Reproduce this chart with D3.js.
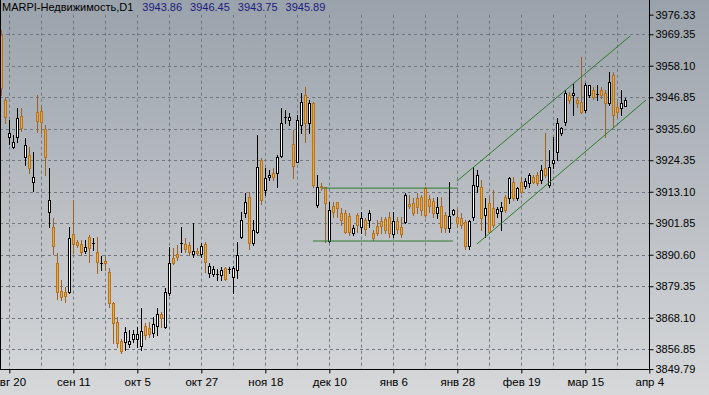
<!DOCTYPE html>
<html><head><meta charset="utf-8">
<script src="https://cdn.jsdelivr.net/npm/d3@7/dist/d3.min.js"></script>
<style>body{margin:0;background:#fff}svg{display:block}</style>
</head><body><svg id="c" width="709" height="395"></svg>
<script>
const openP = [3969.1,3945.9,3932.7,3929.1,3932.7,3940.2,3925.5,3926.2,3916.6,3941.6,
3941.9,3935.5,3905.9,3900.5,3887.7,3877.7,3877.3,3877.3,3898.0,3895.2,
3894.4,3891.9,3896.9,3894.8,3891.6,3887.7,3888.4,3884.4,3873.4,3866.6,
3859.8,3859.4,3858.7,3860.5,3860.5,3858.0,3865.2,3864.4,3862.7,3865.2,
3869.4,3864.8,3876.9,3889.4,3890.9,3894.8,3894.4,3894.1,3890.9,3891.9,
3890.9,3894.4,3884.1,3883.7,3883.7,3883.4,3885.9,3885.5,3882.7,3885.2,
3896.9,3905.5,3911.2,3894.8,3898.7,3924.4,3913.7,3918.4,3919.8,3919.8,
3925.9,3939.8,3938.7,3930.2,3923.7,3936.9,3947.7,3937.7,3944.8,3908.4,
3915.2,3914.8,3895.5,3908.0,3909.4,3905.5,3905.5,3904.4,3898.4,3904.8,
3900.5,3903.0,3903.0,3898.4,3900.9,3902.7,3903.4,3904.1,3898.0,3902.7,
3900.5,3902.3,3908.7,3909.1,3910.9,3911.2,3914.4,3910.5,3909.8,3905.5,
3908.0,3904.8,3900.2,3905.2,3904.1,3903.7,3902.3,3893.7,3904.1,3915.2,
3914.8,3904.8,3909.1,3907.3,3905.5,3906.2,3911.2,3910.9,3916.6,3910.9,
3916.6,3915.2,3916.2,3918.4,3919.1,3917.3,3921.6,3915.5,3923.4,3927.3,
3934.1,3938.0,3947.7,3947.7,3945.9,3945.2,3942.3,3947.7,3949.4,3948.0,
3949.4,3948.4,3944.8,3954.8,3943.4,3943.0,3943.86];
const highP = [3970.9,3946.9,3938.7,3933.4,3943.0,3943.0,3932.3,3929.1,3927.3,3947.7,
3943.7,3936.9,3921.6,3903.7,3891.2,3881.6,3879.1,3900.5,3910.2,3895.9,
3895.9,3895.9,3897.7,3896.6,3896.9,3890.2,3889.8,3885.9,3873.7,3868.4,
3860.5,3864.8,3863.7,3863.7,3864.8,3871.6,3866.2,3866.6,3868.4,3871.6,
3870.2,3878.7,3893.4,3893.0,3894.1,3900.5,3896.6,3895.2,3901.9,3893.0,
3894.8,3895.2,3887.7,3886.6,3885.5,3886.2,3886.2,3886.2,3886.6,3895.2,
3905.9,3912.7,3913.0,3903.0,3933.4,3925.2,3921.6,3920.9,3921.6,3926.2,
3943.0,3942.3,3941.2,3935.2,3940.5,3948.4,3950.5,3945.9,3945.2,3919.1,
3916.2,3914.8,3909.4,3909.4,3909.4,3907.3,3906.6,3905.5,3901.2,3905.5,
3905.9,3903.7,3906.6,3899.4,3903.0,3904.1,3904.1,3905.9,3905.9,3904.1,
3904.1,3912.7,3911.9,3910.9,3912.7,3911.9,3914.8,3911.9,3910.9,3911.2,
3911.2,3905.9,3916.6,3906.9,3906.9,3905.5,3903.0,3903.0,3921.9,3920.9,
3917.3,3910.9,3911.2,3913.7,3907.7,3909.4,3911.9,3918.4,3918.4,3914.8,
3918.4,3918.0,3919.8,3919.1,3920.2,3922.7,3934.1,3928.0,3932.7,3939.4,
3936.2,3949.4,3948.7,3951.9,3946.9,3961.2,3951.9,3951.2,3950.5,3951.2,
3950.5,3949.4,3955.9,3955.9,3945.2,3949.4,3946.45];
const lowP = [3947.7,3937.7,3930.2,3928.7,3930.9,3934.8,3922.7,3919.8,3913.4,3934.4,
3934.1,3919.1,3900.5,3890.9,3874.8,3874.4,3873.7,3876.9,3891.2,3893.4,
3890.5,3891.2,3888.0,3892.3,3884.1,3885.2,3885.2,3871.9,3859.1,3857.7,
3855.5,3856.6,3857.7,3859.4,3857.7,3856.6,3860.5,3861.2,3861.2,3861.9,
3864.8,3864.4,3876.2,3887.3,3888.7,3891.6,3891.6,3890.5,3889.8,3890.5,
3889.8,3884.4,3882.7,3883.0,3881.6,3881.6,3881.6,3884.1,3876.9,3882.3,
3896.6,3904.1,3892.7,3894.1,3898.4,3908.7,3911.9,3917.3,3917.3,3914.8,
3925.5,3937.7,3936.9,3918.0,3923.7,3934.1,3930.9,3934.1,3914.8,3907.7,
3913.7,3895.2,3895.2,3904.1,3904.1,3901.2,3898.4,3897.7,3897.7,3898.7,
3898.4,3897.7,3900.5,3895.9,3897.7,3898.4,3898.4,3896.9,3896.9,3898.4,
3896.9,3901.9,3907.3,3904.8,3905.5,3904.8,3904.1,3905.9,3904.1,3903.7,
3898.7,3898.7,3898.7,3904.8,3900.5,3900.2,3892.7,3892.7,3903.0,3913.0,
3899.4,3896.9,3898.4,3900.5,3904.1,3899.4,3905.9,3909.1,3910.2,3910.2,
3912.7,3914.4,3914.8,3916.2,3915.5,3916.2,3918.4,3914.8,3921.6,3924.4,
3933.4,3936.9,3944.8,3940.5,3943.4,3941.2,3941.6,3946.9,3946.2,3945.9,
3946.6,3932.7,3944.1,3936.2,3939.8,3940.5,3943.75];
const closeP = [3950.2,3939.8,3934.1,3930.9,3939.4,3935.9,3929.8,3921.6,3918.4,3938.4,
3938.0,3925.5,3910.2,3893.7,3877.3,3875.5,3875.9,3896.6,3894.4,3894.1,
3891.6,3893.4,3893.0,3894.8,3888.0,3887.7,3887.7,3873.4,3866.2,3859.1,
3856.2,3863.0,3859.8,3862.3,3862.3,3863.4,3861.9,3862.3,3865.9,3869.4,
3868.0,3877.3,3887.7,3887.7,3889.8,3894.8,3892.7,3891.6,3891.9,3891.2,
3893.7,3888.0,3886.6,3885.5,3883.7,3885.2,3881.9,3885.5,3885.9,3890.5,
3903.0,3909.4,3894.8,3899.4,3921.9,3910.2,3918.0,3919.1,3918.4,3925.5,
3937.7,3939.8,3939.8,3922.3,3938.7,3945.2,3937.7,3944.8,3915.5,3914.8,
3914.8,3909.1,3906.6,3905.9,3907.3,3903.0,3898.7,3898.7,3900.2,3901.2,
3903.7,3899.8,3905.5,3896.6,3898.4,3900.9,3899.4,3898.4,3902.7,3899.8,
3898.0,3911.9,3908.0,3905.5,3907.7,3906.6,3904.8,3908.0,3905.5,3907.7,
3900.5,3900.2,3904.4,3906.6,3901.9,3901.2,3893.7,3902.7,3915.5,3919.1,
3903.7,3907.3,3898.7,3901.2,3906.9,3907.7,3906.6,3918.0,3910.9,3914.4,
3913.0,3916.9,3919.1,3916.6,3916.2,3920.9,3919.1,3921.9,3924.4,3937.7,
3935.9,3948.4,3945.9,3948.4,3944.8,3941.6,3951.2,3951.2,3946.9,3948.0,
3947.7,3944.8,3952.3,3940.5,3941.6,3944.8,3945.89];

const priceTicks = [3849.79,3856.85,3868.10,3879.35,3890.60,3901.85,3913.10,3924.35,3935.60,3946.85,3958.10,3969.35,3976.33];
const timeTickBars = [2,18,34,50,66,82,98,114,130,146,162];
const timeTickLabels = ["авг 20","сен 11","окт 5","окт 27","ноя 18","дек 10","янв 6","янв 28","фев 19","мар 15","апр 4"];
// trend lines: [bar1, price1, bar2, price2]
const trendLines = [
  [80.2, 3914.4, 114.2, 3914.4],
  [77.9, 3895.5, 112.9, 3895.5],
  [113.9, 3916.9, 157.2, 3968.7],
  [118.9, 3894.4, 161.2, 3945.9]
];
const symbolTitle = "MARPI-Недвижимость,D1";
const lastQuote = ["3943.86","3946.45","3943.75","3945.89"];

const W = 709, H = 395;
const plotL = 0, plotR = 649, plotT = 14.7, plotB = 369;
const FONT = "'Liberation Sans', Arial, sans-serif";
const svg = d3.select("#c");
const defs = svg.append("defs");
const grad = defs.append("linearGradient").attr("id","bg").attr("x1",0).attr("y1",0).attr("x2",0).attr("y2",1);
grad.append("stop").attr("offset","0%").attr("stop-color","#9aa2ab");
grad.append("stop").attr("offset","55%").attr("stop-color","#bcc0c5");
grad.append("stop").attr("offset","100%").attr("stop-color","#d6d8da");
svg.append("rect").attr("width",W).attr("height",H).attr("fill","url(#bg)");
defs.append("clipPath").attr("id","clip").append("rect").attr("x",0).attr("y",0).attr("width",plotR).attr("height",plotB);

const nBars = openP.length;
const x = d3.scaleLinear().domain([0,162]).range([1.3,649.3]);
const y = d3.scaleLinear().domain([3849.79,3976.33]).range([plotB,plotT]);

// grid
const grid = svg.append("g").attr("stroke","#6f7781").attr("stroke-dasharray","3,3").attr("stroke-width",1);
priceTicks.slice(1,-1).forEach(p=>{
  const yy = Math.round(y(p))+0.5;
  grid.append("line").attr("x1",plotL).attr("x2",plotR).attr("y1",yy).attr("y2",yy);
});
d3.range(2,162,8).forEach(b=>{
  const xx = Math.floor(x(b))+0.5;
  grid.append("line").attr("x1",xx).attr("x2",xx).attr("y1",plotT).attr("y2",plotB);
});

// candles
const g = svg.append("g").attr("clip-path","url(#clip)");
d3.range(nBars).forEach(i=>{
  const o=openP[i], c=closeP[i], h=highP[i], l=lowP[i];
  const cx = Math.floor(x(i));
  const up = c>o, dn = c<o;
  const wickCol = dn ? "#9a6428" : "#000";
  g.append("line").attr("x1",cx+0.5).attr("x2",cx+0.5)
    .attr("y1",Math.round(y(h))).attr("y2",Math.round(y(l))+1)
    .attr("stroke",wickCol).attr("stroke-width",1);
  if(!up && !dn){
    const yy = Math.round(y(o))+0.5;
    g.append("line").attr("x1",cx-1).attr("x2",cx+2).attr("y1",yy).attr("y2",yy).attr("stroke","#000");
  } else {
    const t = Math.round(y(Math.max(o,c))), b = Math.round(y(Math.min(o,c)));
    g.append("rect").attr("x",cx-0.5).attr("y",t+0.5).attr("width",2).attr("height",Math.max(b-t,1))
      .attr("fill", up ? "#ffffff" : "#eaa93c")
      .attr("stroke", up ? "#000" : "#b57424").attr("stroke-width",1);
  }
});

// trend lines
const tl = svg.append("g").attr("clip-path","url(#clip)");
trendLines.forEach(d=>{
  tl.append("line").attr("x1",x(d[0])).attr("y1",y(d[1])).attr("x2",x(d[2])).attr("y2",y(d[3]))
    .attr("stroke","#2f7a2f").attr("stroke-width",1);
});

// frame
svg.append("line").attr("x1",0.5).attr("x2",0.5).attr("y1",0).attr("y2",plotB+0.5).attr("stroke","#000");
svg.append("line").attr("x1",plotR+0.5).attr("x2",plotR+0.5).attr("y1",0).attr("y2",plotB+0.5).attr("stroke","#000");

// axes
const yAxis = d3.axisRight(y).tickValues(priceTicks).tickFormat(d3.format(".2f")).tickSize(4).tickPadding(2);
const ya = svg.append("g").attr("transform",`translate(${plotR+0.5},0)`).call(yAxis);
ya.select(".domain").remove();
ya.selectAll("line").attr("stroke","#000");
ya.selectAll("text").attr("font-family",FONT).attr("font-size","11px").attr("fill","#000");

const xa = svg.append("g").attr("transform",`translate(0,${plotB+0.5})`)
  .call(d3.axisBottom(x).tickValues(timeTickBars).tickFormat((d,i)=>timeTickLabels[i]).tickSize(4).tickPadding(4));
xa.select(".domain").attr("d",`M0,0H${plotR+4}`).attr("stroke","#000");
xa.selectAll("line").attr("stroke","#000");
xa.selectAll("text").attr("font-family",FONT).attr("font-size","11.5px").attr("fill","#000");

// title
const tt = svg.append("text").attr("x",2).attr("y",11).attr("font-family",FONT).attr("font-size","11px");
tt.append("tspan").attr("fill","#000").text(symbolTitle);
lastQuote.forEach((q,k)=>{
  tt.append("tspan").attr("fill","#1a1a80").attr("dx", k===0?9:8).text(q);
});
</script></body></html>
